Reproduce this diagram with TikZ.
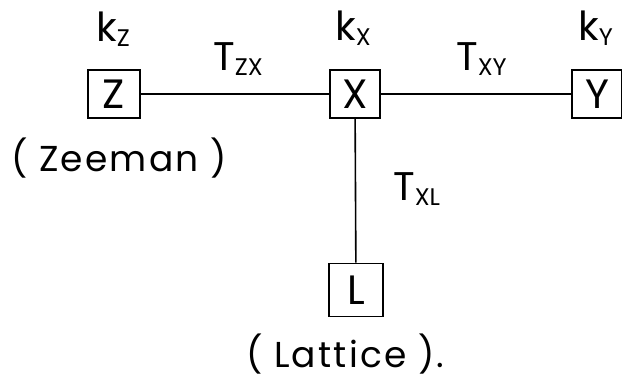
\documentclass[tikz,border=0pt]{standalone}
\usepackage{fontspec}
\setmainfont{Poppins}
\newfontfamily\widefont[LetterSpace=6]{Poppins}
\tikzset{
  box/.style={draw, line width=1.8pt, inner sep=0pt, minimum width=50pt, minimum height=48pt, font=\fontsize{41}{41}\selectfont},
  lbl/.style={inner sep=0pt, anchor=base west, font=\fontsize{40}{40}\selectfont},
  captext/.style={inner sep=0pt, anchor=base west, font=\widefont\fontsize{36}{36}\selectfont},
  link/.style={line width=1.6pt},
}
\newcommand{\subl}[1]{\raisebox{-5pt}{\fontsize{24}{24}\selectfont #1}}
\begin{document}
\begin{tikzpicture}[x=1pt,y=-1pt]
\useasboundingbox (0,0) rectangle (622,381);
\node[box, minimum width=52pt] (z) at (114,94) {Z};
\node[box] (x) at (355,94) {X};
\node[box] (y) at (597,94) {Y};
\node[box, minimum width=54pt, minimum height=53pt] (l) at (356,290) {L};
\draw[link] (z) -- (x);
\draw[link] (x) -- (y);
\draw[link] (x) -- (l);
\node[lbl] (kz) at (96,41) {k\subl{Z}};
\node[lbl] (kx) at (335,40) {k\subl{X}};
\node[lbl] (ky) at (578,40) {k\subl{Y}};
\node[lbl] (tzx) at (213,70) {T\subl{ZX}};
\node[lbl] (txy) at (456,70) {T\subl{XY}};
\node[lbl] (txl) at (393,200) {T\subl{XL}};
\node[captext] (zeeman) at (11,171) {( Zeeman )};
\node[captext] (lattice) at (246,367) {( Lattice ).};
\end{tikzpicture}
\end{document}
